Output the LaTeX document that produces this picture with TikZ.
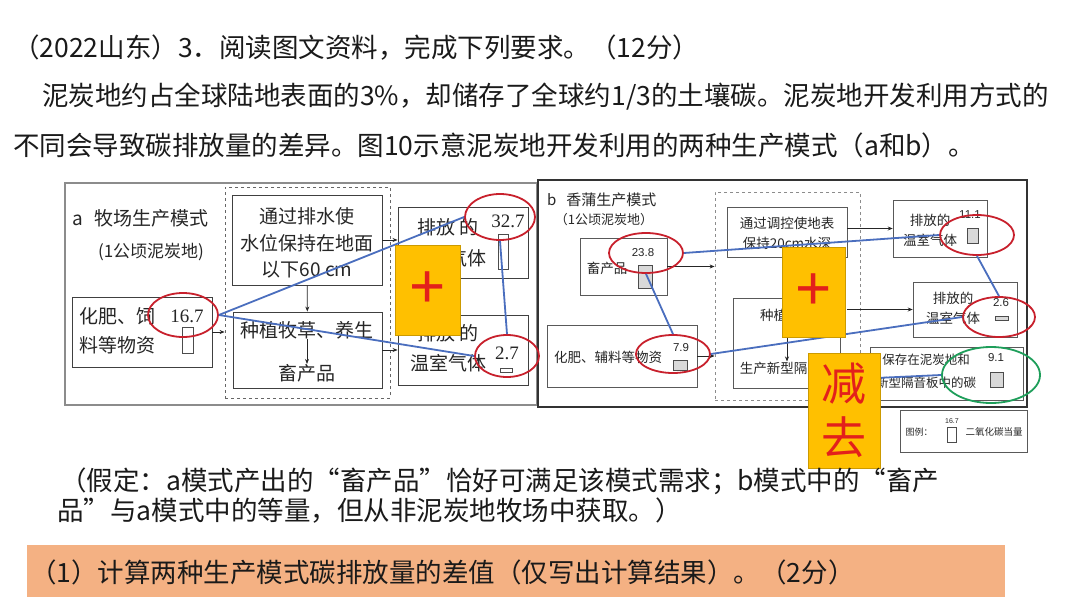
\documentclass[tikz,border=0pt]{standalone}
\usepackage{fontspec}
\setmainfont{Noto Sans CJK SC}
\newfontfamily\serifnum{Liberation Serif}
\newfontfamily\sansnum{Liberation Sans}
\usetikzlibrary{arrows.meta,positioning,calc,shapes.geometric}
\definecolor{RingRed}{HTML}{C8202C}
\definecolor{RingGreen}{HTML}{1E9E5A}
\definecolor{LinkBlue}{HTML}{4A6EBE}
\definecolor{Patch}{HTML}{FFC000}
\definecolor{PlusRed}{HTML}{E3201B}
\definecolor{Band}{HTML}{F4B183}
\definecolor{Ink}{HTML}{1A1A1A}

\begin{document}
\begin{tikzpicture}[x=1pt, y=-1pt,
  txt/.style={anchor=west, inner sep=0pt, text=Ink, font=\fontsize{26.5}{30}\selectfont},
  panela/.style={draw=black!45, line width=2.4pt, inner sep=0pt},
  panelb/.style={draw=black!80, line width=1.8pt, inner sep=0pt},
  boxa/.style={draw=black!75, line width=0.9pt, inner sep=0pt},
  boxb/.style={draw=black!65, line width=0.6pt, inner sep=0pt},
  dashbox/.style={draw=black!60, dashed, line width=0.8pt, inner sep=0pt},
  laba/.style={inner sep=0pt, align=center, text=black!85, font=\fontsize{19}{29}\selectfont},
  labb/.style={inner sep=0pt, align=center, text=black!85, font=\fontsize{13.5}{20}\selectfont},
  vala/.style={inner sep=0pt, text=black!85, font=\serifnum\fontsize{19}{19}\selectfont},
  valb/.style={inner sep=0pt, text=black!85, font=\sansnum\fontsize{11.5}{11.5}\selectfont},
  meter/.style={draw=black!70, line width=0.7pt, fill=white, inner sep=0pt},
  ring/.style={ellipse, draw=RingRed, line width=1.8pt, inner sep=0pt},
  link/.style={draw=LinkBlue, line width=1.8pt},
  arr/.style={-{Stealth[length=5pt,width=4pt]}, line width=0.7pt, draw=black!85},
  patch/.style={fill=Patch, draw=Patch!80!black, line width=0.7pt, inner sep=0pt, text=PlusRed}
]
\fill[white] (0,0) rectangle (1080,608);
\useasboundingbox (0,0) rectangle (1080,608);

\node[txt] (q1) at (13,48) {（2022山东）3．阅读图文资料，完成下列要求。（12分）};
\node[txt] (q2) at (42,97) {泥炭地约占全球陆地表面的3\%，却储存了全球约1/3的土壤碳。泥炭地开发利用方式的};
\node[txt] (q3) at (13,145) {不同会导致碳排放量的差异。图10示意泥炭地开发利用的两种生产模式（a和b）。};

\node[panela, minimum width=472pt, minimum height=222pt] (pa) at (301,294) {};
\node[laba, anchor=west] (ta) at (72,218) {a\hspace{12pt}牧场生产模式};
\node[laba, font=\fontsize{17}{17}\selectfont] (ta2) at (151,252) {(1公顷泥炭地)};
\node[boxa, minimum width=140pt, minimum height=70pt] (a1) at (142,332) {};
\node[laba, anchor=west, align=left] (a1t) at (79,331) {化肥、饲\\料等物资};
\node[vala] (v167) at (187,316) {16.7};
\node[meter, minimum width=11pt, minimum height=26pt] (m167) at (187.5,340) {};
\node[dashbox, minimum width=165pt, minimum height=211pt] (da) at (307.5,292.5) {};
\node[boxa, minimum width=150pt, minimum height=90pt] (a2) at (307,240) {};
\node[laba, font=\fontsize{19}{26.5}\selectfont] (a2t) at (307,243) {通过排水使\\水位保持在地面\\以下60 cm};
\node[boxa, minimum width=149pt, minimum height=76pt] (a3) at (307.5,350) {};
\node[laba] (a3t) at (307,330) {种植牧草、养生};
\node[laba] (a3b) at (307,373) {畜产品};
\node[boxa, minimum width=130pt, minimum height=71pt] (a4) at (463,242.5) {};
\node[laba, font=\fontsize{19}{31}\selectfont] (a4t) at (448,243) {排放 的\\温室气体};
\node[vala] (v327) at (508,221) {32.7};
\node[meter, minimum width=10pt, minimum height=35pt] (m327) at (503,252) {};
\node[boxa, minimum width=130pt, minimum height=70pt] (a5) at (463,350) {};
\node[laba, font=\fontsize{19}{30}\selectfont] (a5t) at (448,348) {排放 的\\温室气体};
\node[vala] (v27) at (507,353) {2.7};
\node[meter, minimum width=12pt, minimum height=4pt] (m27) at (506,370) {};

\draw[arr] (a1.east) -- (a1.east -| da.west);
\draw[arr] (a2) -- (a3);
\draw[arr] (a3t) -- (a3b);
\draw[arr] (a2.east) -- (a2.east -| a4.west);
\draw[arr] (a3.east) -- (a3.east -| a5.west);

\node[panelb, minimum width=489pt, minimum height=227pt] (pb) at (782.5,293.5) {};
\node[labb, anchor=west, font=\fontsize{15}{15}\selectfont] (tb) at (547,200) {b\hspace{10pt}香蒲生产模式};
\node[labb, font=\fontsize{13}{13}\selectfont] (tb2) at (604,220) {（1公顷泥炭地）};
\node[boxb, minimum width=87pt, minimum height=57pt] (b1) at (623.5,266.5) {};
\node[labb] (b1t) at (607,268) {畜产品};
\node[valb] (v238) at (643,253) {23.8};
\node[meter, fill=black!15, minimum width=14pt, minimum height=23pt] (m238) at (645,276.5) {};
\node[boxb, minimum width=150pt, minimum height=62pt] (b2) at (622,356) {};
\node[labb] (b2t) at (608,357) {化肥、辅料等物资};
\node[valb] (v79) at (681,348) {7.9};
\node[meter, fill=black!15, minimum width=14pt, minimum height=10pt] (m79) at (680,365) {};
\node[dashbox, draw=black!45, minimum width=145pt, minimum height=208pt] (db) at (787.5,296) {};
\node[boxb, minimum width=120pt, minimum height=50pt] (b3) at (787,232) {};
\node[labb] (b3t) at (787,233) {通过调控使地表\\保持20cm水深};
\node[boxb, minimum width=107pt, minimum height=90pt] (b4) at (786.5,343) {};
\node[labb] (b4t) at (787,315) {种植香蒲};
\node[labb] (b4b) at (787,368) {生产新型隔音板};
\node[boxb, minimum width=94pt, minimum height=57pt] (b5) at (940,228.5) {};
\node[labb] (b5t) at (930,230) {排放的\\温室气体};
\node[valb] (v111) at (970,215) {11.1};
\node[meter, fill=black!15, minimum width=11pt, minimum height=15pt] (m111) at (972.5,235.5) {};
\node[boxb, minimum width=104pt, minimum height=55pt] (b6) at (965,309.5) {};
\node[labb] (b6t) at (953,308) {排放的\\温室气体};
\node[valb] (v26) at (1001,303) {2.6};
\node[meter, fill=black!15, minimum width=13pt, minimum height=4pt] (m26) at (1001.5,318.5) {};
\node[boxb, minimum width=153pt, minimum height=53pt] (b7) at (946.5,373.5) {};
\node[labb, font=\fontsize{12.5}{23}\selectfont] (b7t) at (926,371.5) {保存在泥炭地和\\新型隔音板中的碳};
\node[valb] (v91) at (996,358) {9.1};
\node[meter, fill=black!15, minimum width=13pt, minimum height=15pt] (m91) at (996.5,379.5) {};

\draw[arr] (b1.east) -- (b1.east -| db.west);
\draw[arr] (b2.east) -- (b2.east -| db.west);
\draw[arr] (b4t) -- (b4b);
\draw[arr] (b5.west -| b3.east) -- (b5.west);
\draw[arr] (b6.west -| b3.east) -- (b6.west);

\node[boxb, minimum width=127pt, minimum height=42pt] (lg) at (963.5,431) {};
\node[labb, font=\fontsize{9}{9}\selectfont] (lgt) at (919,432) {图例：};
\node[valb, font=\sansnum\fontsize{7}{7}\selectfont] (lgv) at (952,421) {16.7};
\node[meter, minimum width=9pt, minimum height=15pt] (lgm) at (951.5,434.5) {};
\node[labb, font=\fontsize{9.5}{9.5}\selectfont] (lgu) at (994,432) {二氧化碳当量};

\node[ring, minimum width=70pt, minimum height=44pt] (e167) at (183,315) {};
\node[ring, minimum width=70pt, minimum height=46pt] (e327) at (500,217) {};
\node[ring, minimum width=64pt, minimum height=42pt] (e27) at (507,356) {};
\node[ring, minimum width=74pt, minimum height=40pt] (e238) at (646,253) {};
\node[ring, minimum width=74pt, minimum height=38pt] (e79) at (673,354) {};
\node[ring, minimum width=74pt, minimum height=40pt] (e111) at (977,235) {};
\node[ring, minimum width=72pt, minimum height=40pt] (e26) at (999,317) {};
\node[ring, draw=RingGreen, minimum width=98pt, minimum height=56pt] (e91) at (991,375) {};
\coordinate (cut) at (876,378);

\draw[link] (e167.east) -- (e327.west);
\draw[link] (e167.east) -- (e27.west);
\draw[link] (e327.south) -- (e27.north);
\draw[link] (e238.east) -- (e111.west);
\draw[link] (e111.south) -- (e26.north);
\draw[link] (e238.south) -- (e79.north);
\draw[link] (e79.east) -- (e26.west);
\draw[link] (cut) -- (e91.west);

\node[patch, minimum width=65pt, minimum height=90pt, font=\sansnum\fontsize{62}{62}\selectfont] (plusa) at (427.5,290) {+};
\node[patch, minimum width=63pt, minimum height=90pt, font=\sansnum\fontsize{62}{62}\selectfont] (plusb) at (813.5,292) {+};
\node[patch, minimum width=72pt, minimum height=115pt, align=center, font=\fontsize{45}{54}\selectfont] (minus) at (844,410.5) {减\\去};

\node[txt] (q4) at (60,481) {（假定：a模式产出的“畜产品”恰好可满足该模式需求；b模式中的“畜产};
\node[txt] (q5) at (57,511) {品”与a模式中的等量，但从非泥炭地牧场中获取。）};
\node[fill=Band, minimum width=978pt, minimum height=52pt, inner sep=0pt] (band) at (516,571) {};
\node[txt] (q6) at (30,572) {（1）计算两种生产模式碳排放量的差值（仅写出计算结果）。（2分）};
\end{tikzpicture}
\end{document}
